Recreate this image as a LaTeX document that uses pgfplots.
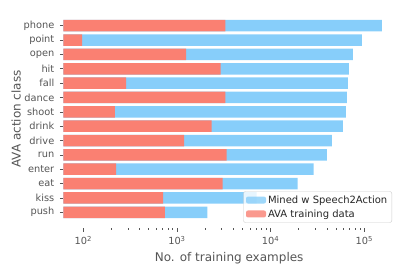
\documentclass[border=0pt]{standalone}
\usepackage{pgfplots}
\pgfplotsset{compat=1.18}
\usepackage{fontspec}
\setmainfont{DejaVu Sans}
\definecolor{skyb}{HTML}{87CEFA}
\definecolor{salm}{HTML}{FA8072}
\definecolor{txtg}{HTML}{555555}
\begin{document}
\begin{tikzpicture}
\useasboundingbox (-63.3pt,-45pt) rectangle (343.7pt,228pt);
\begin{axis}[
  at={(0pt,0pt)}, anchor=south west,
  scale only axis, width=331.7pt, height=218pt,
  xmode=log, log origin=infty,
  xmin=61.2, xmax=2.13e5,
  ymin=-1.094, ymax=14.094,
  axis line style={draw=none},
  xbar, bar shift=0pt, bar width=0.8,
  ytick={0,...,13},
  yticklabels={push,kiss,eat,enter,run,drive,drink,shoot,dance,fall,hit,open,point,phone},
  xtick={100,1000,10000,100000},
  xticklabels={10\textsuperscript{2},10\textsuperscript{3},10\textsuperscript{4},10\textsuperscript{5}},
  tick align=outside,
  major tick length=3.5pt, minor tick length=2pt,
  tick style={color=txtg, line width=0.6pt},
  xtick pos=bottom, ytick pos=left,
  ticklabel style={font=\fontsize{9.8}{11}\selectfont, text=txtg},
  yticklabel style={xshift=-2pt},
  xticklabel style={yshift=-1pt},
  xlabel={No. of training examples},
  ylabel={AVA action class},
  label style={font=\fontsize{12}{14}\selectfont, text=txtg},
  xlabel style={yshift=-1pt},
  ylabel style={yshift=-4pt},
  legend cell align=left,
  legend style={at={(1,0)}, xshift=-3pt, yshift=5.3pt, anchor=south east,
    draw=black!20, fill=white, fill opacity=0.8, text opacity=1, rounded corners=2pt,
    font=\fontsize{10}{12}\selectfont, text=black!85, row sep=0.8pt, inner xsep=2.5pt, inner ysep=2pt},
  legend image code/.code={\fill[#1] (0pt,-3.5pt) rectangle (20pt,3.5pt);},
]
\addplot[fill=skyb, draw=none] coordinates {
 (2110,0) (7100,1) (19400,2) (28800,3) (40000,4) (45200,5) (59200,6)
 (63800,7) (65300,8) (67000,9) (68700,10) (75700,11) (94500,12) (154500,13)};
\addlegendentry{Mined w Speech2Action}
\addplot[fill=salm, draw=none] coordinates {
 (745,0) (714,1) (3070,2) (224,3) (3390,4) (1190,5) (2340,6)
 (218,7) (3300,8) (286,9) (2930,10) (1250,11) (97,12) (3300,13)};
\addlegendentry{AVA training data}
\end{axis}
\end{tikzpicture}
\end{document}
